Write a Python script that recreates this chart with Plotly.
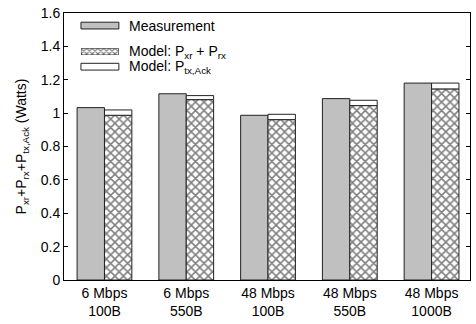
import plotly.graph_objects as go

categories = ["6 Mbps<br>100B", "6 Mbps<br>550B", "48 Mbps<br>100B", "48 Mbps<br>550B", "48 Mbps<br>1000B"]
measurement = [1.033, 1.116, 0.987, 1.087, 1.180]
model_xr_rx = [0.987, 1.081, 0.961, 1.045, 1.145]
model_tx_ack = [0.032, 0.024, 0.032, 0.032, 0.035]
y_ticks = [0, 0.2, 0.4, 0.6, 0.8, 1, 1.2, 1.4, 1.6]
y_tick_labels = ["0", "0.2", "0.4", "0.6", "0.8", "1", "1.2", "1.4", "1.6"]
legend_names = ["Measurement", "Model: P<sub>xr</sub> + P<sub>rx</sub>", "Model: P<sub>tx,Ack</sub>"]

x = list(range(len(categories)))
bw = 0.335
font = "Liberation Sans, Arial, Helvetica, sans-serif"
line = dict(color="#222222", width=1)
gray = "#c0c0c0"
hatch = dict(shape="x", size=6, solidity=0.45, fgcolor="black", bgcolor="white")

fig = go.Figure()
fig.add_trace(go.Bar(
    x=x, y=measurement, width=bw, offset=-bw, name=legend_names[0],
    marker=dict(color=gray, line=line),
))
fig.add_trace(go.Bar(
    x=x, y=model_xr_rx, width=bw, offset=0, name=legend_names[1],
    marker=dict(color="white", line=line, pattern=hatch),
))
fig.add_trace(go.Bar(
    x=x, y=model_tx_ack, base=model_xr_rx, width=bw, offset=0, name=legend_names[2],
    marker=dict(color="white", line=line),
))

# custom legend (wide swatches like the original)
L, R, T, B = 64, 471, 7, 283
def px2paper(px, py):
    return (px - L) / (R - L), (B - py) / (B - T)

legend_rows = [(20, gray), (47, None), (62.5, "white")]
for (cy, col), name in zip(legend_rows, legend_names):
    if col is not None:
        x0, y0 = px2paper(81, cy - 3.5)
        x1, y1 = px2paper(119, cy + 3.5)
        fig.add_shape(type="rect", xref="paper", yref="paper", x0=x0, x1=x1, y0=y1, y1=y0,
                      fillcolor=col, line=dict(color="#222222", width=1), layer="above")
    tx, ty = px2paper(127, cy)
    fig.add_annotation(xref="paper", yref="paper", x=tx, y=ty, xanchor="left", yanchor="middle",
                       text=name, showarrow=False, font=dict(size=14, family=font, color="black"))

# hatched legend swatch drawn as a tiny bar on its own axes
fig.add_trace(go.Bar(
    x=[0.5], y=[1], base=[0], width=[1], xaxis="x2", yaxis="y2", showlegend=False,
    marker=dict(color="white", line=line, pattern=dict(shape="x", size=4, solidity=0.5,
                fgcolor="black", bgcolor="white")),
    hoverinfo="skip",
))
sx0, sy0 = px2paper(81, 47 + 3.5)
sx1, sy1 = px2paper(119, 47 - 3.5)

fig.update_layout(
    width=476, height=324,
    margin=dict(l=L, r=476 - R, t=T, b=324 - B),
    barmode="overlay",
    plot_bgcolor="white", paper_bgcolor="white",
    font=dict(family=font, size=14, color="black"),
    showlegend=False,
    xaxis=dict(
        range=[-0.495, 4.47], tickmode="array", tickvals=x, ticktext=categories,
        showline=True, mirror=True, linecolor="black", linewidth=1, ticks="",
        showgrid=False, zeroline=False, tickfont=dict(size=14),
    ),
    yaxis=dict(
        range=[0, 1.6], tickmode="array", tickvals=y_ticks, ticktext=y_tick_labels,
        showline=True, mirror="allticks", linecolor="black", linewidth=1, ticks="inside",
        ticklen=4, tickcolor="black", showgrid=False, zeroline=False, tickfont=dict(size=14),
        ticklabeloverflow="allow",
        title=dict(text="P<sub>xr</sub>+P<sub>rx</sub>+P<sub>tx,Ack</sub> (Watts)", font=dict(size=14), standoff=10),
    ),
    xaxis2=dict(domain=[sx0, sx1], range=[0, 1], visible=False, anchor="y2", fixedrange=True),
    yaxis2=dict(domain=[sy0, sy1], range=[0, 1], visible=False, anchor="x2", fixedrange=True),
)

fig.write_html("out.html")
